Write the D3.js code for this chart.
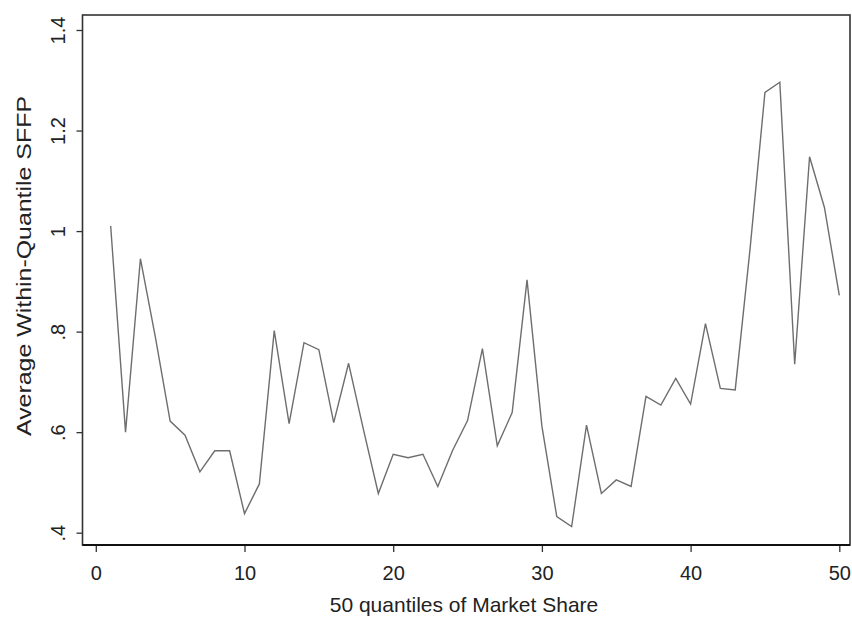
<!DOCTYPE html>
<html>
<head>
<meta charset="utf-8">
<script src="https://cdn.jsdelivr.net/npm/d3@7"></script>
<style>
  body { margin: 0; background: #fff; }
  svg { display: block; font-family: Arial, "Liberation Sans", sans-serif; }
</style>
</head>
<body>
<div id="chart"></div>
<script>
// quantile index 1..50 and average SFFP per quantile
const quantiles = d3.range(1, 51);
const sffp = [
  1.01, 0.60, 0.945, 0.79, 0.622, 0.594, 0.521, 0.563, 0.563, 0.438,
  0.497, 0.802, 0.617, 0.778, 0.764, 0.619, 0.737, 0.605, 0.478, 0.556,
  0.549, 0.556, 0.492, 0.564, 0.623, 0.766, 0.573, 0.639, 0.903, 0.612,
  0.432, 0.412, 0.614, 0.478, 0.505, 0.492, 0.671, 0.654, 0.707, 0.656,
  0.816, 0.687, 0.684, 0.965, 1.276, 1.296, 0.735, 1.148, 1.047, 0.872
];
const xTicks = [0, 10, 20, 30, 40, 50];
const yTicks = [0.4, 0.6, 0.8, 1, 1.2, 1.4];
const yTickLabels = ['.4', '.6', '.8', '1', '1.2', '1.4'];

const width = 852, height = 618;
const frame = { left: 82.5, right: 850, top: 15, bottom: 545 };

const svg = d3.select('#chart').append('svg')
  .attr('width', width)
  .attr('height', height);

const x = d3.scaleLinear().domain([0, 50]).range([95.8, 839.3]);
const y = d3.scaleLinear().domain([0.4, 1.4]).range([532.7, 30]);

// plot region border
svg.append('rect')
  .attr('x', frame.left).attr('y', frame.top)
  .attr('width', frame.right - frame.left)
  .attr('height', frame.bottom - frame.top)
  .attr('fill', 'none')
  .attr('stroke', '#333')
  .attr('stroke-width', 1.6);

// left axis
const yAxis = svg.append('g')
  .attr('transform', `translate(${frame.left},0)`)
  .call(d3.axisLeft(y).tickValues(yTicks).tickSize(6).tickPadding(0)
    .tickFormat((d, i) => yTickLabels[i]));
yAxis.select('.domain').remove();
yAxis.selectAll('.tick line').attr('stroke', '#333').attr('stroke-width', 1.3);
yAxis.selectAll('.tick text')
  .attr('transform', 'rotate(-90)')
  .attr('x', 0).attr('y', -17.5).attr('dy', 0)
  .attr('text-anchor', 'middle')
  .attr('fill', '#222')
  .style('font-size', '20px');

// bottom axis
const xAxis = svg.append('g')
  .attr('transform', `translate(0,${frame.bottom})`)
  .call(d3.axisBottom(x).tickValues(xTicks).tickSize(7).tickPadding(0)
    .tickFormat(d3.format('d')));
xAxis.select('.domain').remove();
xAxis.selectAll('.tick line').attr('stroke', '#333').attr('stroke-width', 1.3);
xAxis.selectAll('.tick text')
  .attr('y', 35).attr('dy', 0)
  .attr('fill', '#222')
  .style('font-size', '20px');

svg.append('line')
  .attr('x1', frame.left).attr('x2', frame.right)
  .attr('y1', frame.bottom).attr('y2', frame.bottom)
  .attr('stroke', '#111').attr('stroke-width', 2.2);

// the series
const line = d3.line()
  .x((d, i) => x(quantiles[i]))
  .y(d => y(d));

svg.append('path')
  .datum(sffp)
  .attr('d', line)
  .attr('fill', 'none')
  .attr('stroke', '#6e6e6e')
  .attr('stroke-width', 1.4)
  .attr('stroke-linejoin', 'miter');

// axis titles
svg.append('text')
  .attr('x', 464).attr('y', 612)
  .attr('text-anchor', 'middle')
  .attr('fill', '#222')
  .style('font-size', '21px')
  .text('50 quantiles of Market Share');

svg.append('text')
  .attr('transform', 'translate(31,266) rotate(-90)')
  .attr('text-anchor', 'middle')
  .attr('fill', '#222')
  .style('font-size', '21px')
  .attr('textLength', 340)
  .attr('lengthAdjust', 'spacingAndGlyphs')
  .text('Average Within-Quantile SFFP');
</script>
</body>
</html>
